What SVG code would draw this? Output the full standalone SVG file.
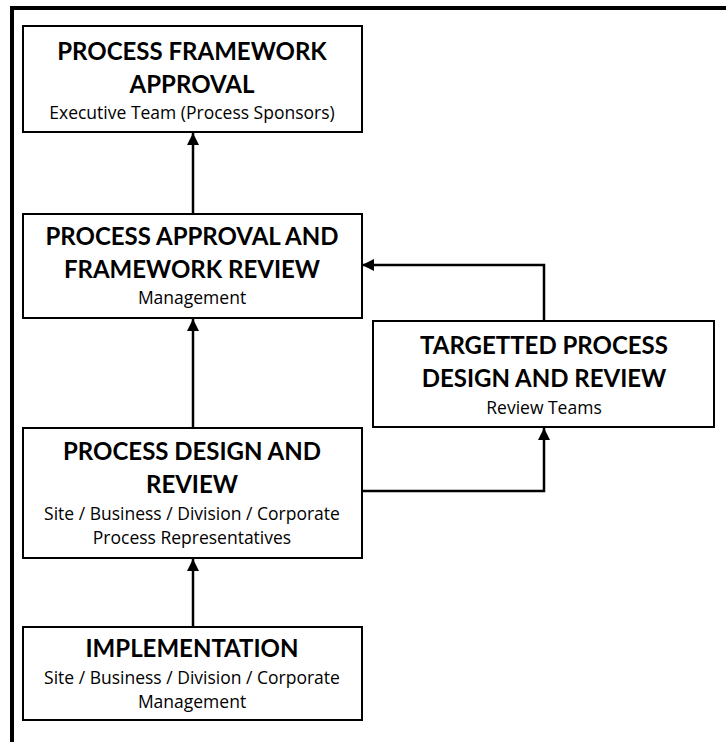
<svg xmlns="http://www.w3.org/2000/svg" width="726" height="742" viewBox="0 0 726 742">
<style>
.box{fill:#fff;stroke:#000;stroke-width:2}
.t{font-family:Lato,"Liberation Sans",sans-serif;font-weight:bold;font-size:24px;fill:#000;text-anchor:middle}
.s{font-family:"Open Sans","Liberation Sans",sans-serif;font-size:17.5px;fill:#000;text-anchor:middle}
.c{fill:none;stroke:#000;stroke-width:2.5}
</style>
<defs>
<marker id="ah" markerUnits="userSpaceOnUse" markerWidth="12" markerHeight="12" refX="12" refY="6" orient="auto">
<path d="M0,0 L12,6 L0,12 Z" fill="#000"/>
</marker>
</defs>
<rect width="726" height="742" fill="#fff"/>
<path d="M12,742 V8 H726" fill="none" stroke="#000" stroke-width="4"/>
<g id="connectors">
<path class="c" d="M193,214 V133" marker-end="url(#ah)"/>
<path class="c" d="M193,428 V319" marker-end="url(#ah)"/>
<path class="c" d="M193,627 V559" marker-end="url(#ah)"/>
<path class="c" d="M361,491 H544 V428" marker-end="url(#ah)"/>
<path class="c" d="M544,321 V265 H362" marker-end="url(#ah)"/>
</g>
<g id="n1">
<rect class="box" x="23" y="26" width="339" height="106"/>
<text class="t" x="192" y="60">PROCESS FRAMEWORK</text>
<text class="t" x="192" y="93">APPROVAL</text>
<text class="s" x="192" y="119">Executive Team (Process Sponsors)</text>
</g>
<g id="n2">
<rect class="box" x="23" y="214" width="339" height="104"/>
<text class="t" x="192" y="245">PROCESS APPROVAL AND</text>
<text class="t" x="192" y="278">FRAMEWORK REVIEW</text>
<text class="s" x="192" y="304">Management</text>
</g>
<g id="n3">
<rect class="box" x="373" y="321" width="341" height="106"/>
<text class="t" x="544" y="354">TARGETTED PROCESS</text>
<text class="t" x="544" y="387">DESIGN AND REVIEW</text>
<text class="s" x="544" y="414">Review Teams</text>
</g>
<g id="n4">
<rect class="box" x="23" y="428" width="339" height="130"/>
<text class="t" x="192" y="460">PROCESS DESIGN AND</text>
<text class="t" x="192" y="493">REVIEW</text>
<text class="s" x="192" y="520">Site / Business / Division / Corporate</text>
<text class="s" x="192" y="544">Process Representatives</text>
</g>
<g id="n5">
<rect class="box" x="23" y="627" width="339" height="93"/>
<text class="t" x="192" y="657">IMPLEMENTATION</text>
<text class="s" x="192" y="684">Site / Business / Division / Corporate</text>
<text class="s" x="192" y="708">Management</text>
</g>
</svg>
